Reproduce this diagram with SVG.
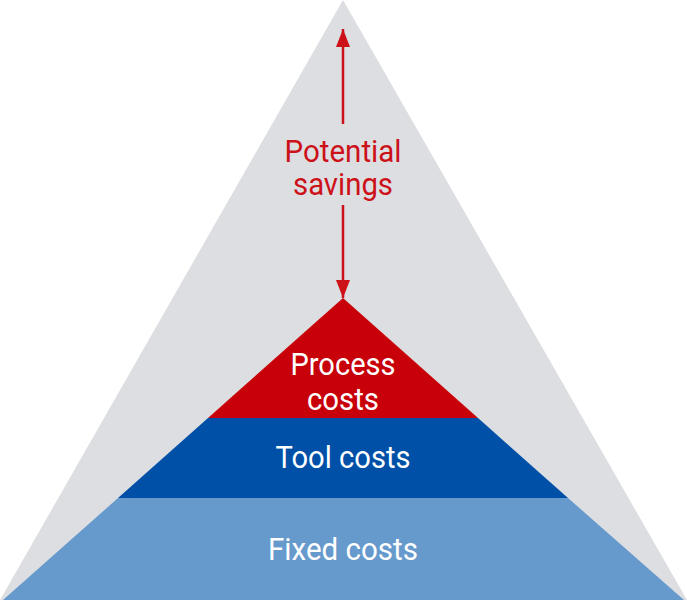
<svg xmlns="http://www.w3.org/2000/svg" width="687" height="600" viewBox="0 0 687 600">
<style>
.lbl{font-family:Roboto,"Liberation Sans",sans-serif;font-size:31px;text-anchor:middle;fill:#ffffff}
.red{fill:#cc1119}
</style>
<defs>
<marker id="ah" markerWidth="18" markerHeight="14" refX="18" refY="7" orient="auto" markerUnits="userSpaceOnUse">
<path d="M0,0 L18,7 L0,14 Z" fill="#cc1119"/>
</marker>
</defs>
<rect width="687" height="600" fill="#ffffff"/>
<g id="outer"><polygon points="343,0 687,600 0,600" fill="#dddee1"/></g>
<g id="fixed"><polygon points="118,498 568,498 684,600 3,600" fill="#6699cc"/>
<text class="lbl" x="343" y="560" textLength="150" lengthAdjust="spacingAndGlyphs">Fixed costs</text></g>
<g id="tool"><polygon points="208,418 478,418 568,498 118,498" fill="#0050a8"/>
<text class="lbl" x="343" y="468" textLength="135" lengthAdjust="spacingAndGlyphs">Tool costs</text></g>
<g id="process"><polygon points="343,298 478,418 208,418" fill="#c8000a"/>
<text class="lbl" x="343" y="375" textLength="105" lengthAdjust="spacingAndGlyphs">Process</text>
<text class="lbl" x="343" y="410" textLength="72" lengthAdjust="spacingAndGlyphs">costs</text></g>
<g id="connectors">
<line x1="343" y1="124" x2="343" y2="29" stroke="#cc1119" stroke-width="2.5" marker-end="url(#ah)"/>
<line x1="343" y1="205" x2="343" y2="298" stroke="#cc1119" stroke-width="2.5" marker-end="url(#ah)"/>
</g>
<g id="savings">
<text class="lbl red" x="343" y="162" textLength="117" lengthAdjust="spacingAndGlyphs">Potential</text>
<text class="lbl red" x="343" y="195" textLength="100" lengthAdjust="spacingAndGlyphs">savings</text>
</g>
</svg>
